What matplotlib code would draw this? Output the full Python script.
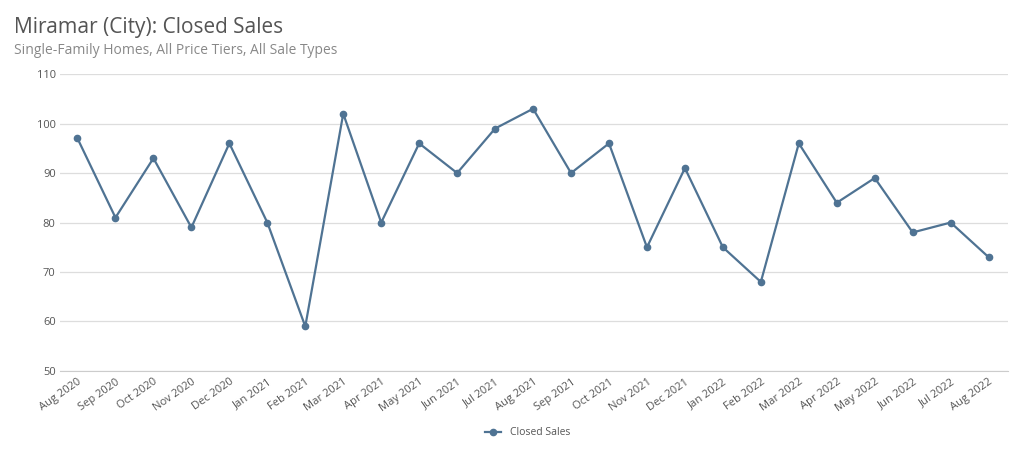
import matplotlib
matplotlib.use("Agg")
import matplotlib.pyplot as plt

months = ["Aug 2020","Sep 2020","Oct 2020","Nov 2020","Dec 2020","Jan 2021","Feb 2021","Mar 2021","Apr 2021","May 2021","Jun 2021","Jul 2021","Aug 2021","Sep 2021","Oct 2021","Nov 2021","Dec 2021","Jan 2022","Feb 2022","Mar 2022","Apr 2022","May 2022","Jun 2022","Jul 2022","Aug 2022"]
closed_sales = [97,81,93,79,96,80,59,102,80,96,90,99,103,90,96,75,91,75,68,96,84,89,78,80,73]
yticks = [50,60,70,80,90,100,110]

plt.rcParams["font.family"] = "Open Sans"
fig = plt.figure(figsize=(10.24,4.69), dpi=100)
ax = fig.add_axes([0.059,0.209,0.925,0.633])
x = list(range(len(months)))
color = "#4f7393"
ax.plot(x, closed_sales, color=color, lw=1.6, marker="o", ms=4.5, label="Closed Sales")
ax.set_ylim(50,110)
ax.set_xlim(-0.45,24.5)
ax.set_yticks(yticks)
ax.set_xticks(x)
ax.set_xticklabels(months, rotation=35, ha="right", rotation_mode="anchor", fontsize=8, color="#555555")
ax.tick_params(axis="y", labelsize=8, colors="#555555", length=0)
ax.tick_params(axis="x", length=0, pad=4)
ax.grid(axis="y", color="#dddddd", lw=0.9)
ax.set_axisbelow(True)
for s in ax.spines.values():
    s.set_visible(False)
ax.spines["bottom"].set_visible(True)
ax.spines["bottom"].set_color("#cccccc")
fig.text(0.014,0.93,"Miramar (City): Closed Sales", fontsize=15, color="#555555")
fig.text(0.014,0.885,"Single-Family Homes, All Price Tiers, All Sale Types", fontsize=10, color="#888888")
fig.legend(loc="center", bbox_to_anchor=(0.515,0.077), frameon=False, fontsize=7.5, handlelength=1.6, labelcolor="#555555")
fig.savefig("out.png", dpi=100, facecolor="white")
